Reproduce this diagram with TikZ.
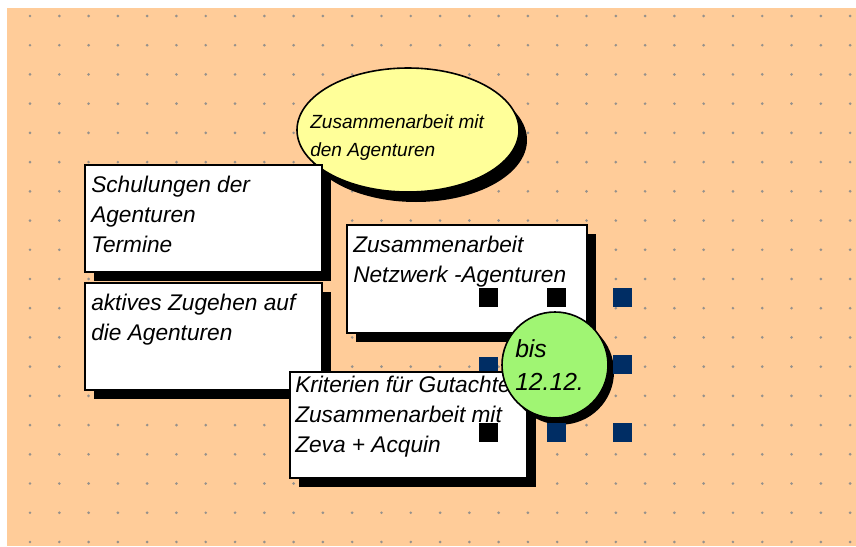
\documentclass[tikz,border=0pt]{standalone}
\usepackage{fontspec}
\setmainfont{Liberation Sans}
\usetikzlibrary{shadows,shapes.geometric}

\definecolor{peach}{RGB}{255,204,153}
\definecolor{paleyellow}{RGB}{255,255,153}
\definecolor{palegreen}{RGB}{160,245,115}
\definecolor{gripblue}{RGB}{0,45,100}
\definecolor{dotgrey}{RGB}{150,145,140}

\tikzset{
  card/.style={draw=black, line width=1pt, fill=white, inner sep=0pt,
    minimum width=177.75pt, minimum height=80.25pt,
    drop shadow={shadow xshift=6.75pt, shadow yshift=-6.75pt, fill=black, opacity=1}},
  cardtext/.style={font=\itshape\fontsize{17}{22.5}\selectfont, align=left,
    inner sep=0pt, anchor=base west},
  grip/.style={fill=gripblue, inner sep=0pt, minimum size=14.25pt},
  blackgrip/.style={grip, fill=black}
}

\begin{document}
\begin{tikzpicture}[x=0.75pt, y=-0.75pt]
\useasboundingbox (0,0) rectangle (856,546);
\fill[white] (0,0) rectangle (856,546);
\fill[peach] (7,8) rectangle (856,546);

% grid dots
\foreach \i in {0,...,28}
  \foreach \j in {0,...,18}
    \fill[dotgrey] (30+29.29*\i, 16+29.22*\j) circle (1.1pt);

% ellipse at the top
\node[ellipse, draw=black, line width=1.2pt, fill=paleyellow, inner sep=0pt,
  minimum width=166.5pt, minimum height=93pt,
  drop shadow={shadow xshift=6pt, shadow yshift=-7.5pt, fill=black, opacity=1}]
  (agent) at (408,130) {};
\node[font=\itshape\fontsize{14.3}{21}\selectfont, align=left, inner sep=0pt, anchor=base west]
  (agenttext) at (310,156) {Zusammenarbeit mit\\den Agenturen};

% boxes (text anchored at the baseline of its last line)
\node[card] (schulung) at (203.5,218.5) {};
\node[cardtext] (schulungtext) at (91,252) {Schulungen der\\Agenturen\\Termine};

\node[card] (zugehen) at (203.5,336.5) {};
\node[cardtext] (zugehentext) at (91,340) {aktives Zugehen auf\\die Agenturen};

\node[card, minimum width=180pt, minimum height=81pt] (netzwerk) at (467,279) {};
\node[cardtext] (netzwerktext) at (353,282) {Zusammenarbeit\\Netzwerk -Agenturen};

\node[card, minimum height=79.5pt] (kriterien) at (408.5,425) {};
\node[cardtext] (kriterientext) at (295,452) {Kriterien f\"ur Gutachter\\Zusammenarbeit mit\\Zeva + Acquin};

% circle with the date
\node[circle, draw=black, line width=1.2pt, fill=palegreen, inner sep=0pt,
  minimum size=79.5pt,
  drop shadow={shadow xshift=4.5pt, shadow yshift=-5pt, fill=black, opacity=1}]
  (frist) at (555,365) {};
\node[font=\itshape\fontsize{18.5}{24.75}\selectfont, align=left, inner sep=0pt, anchor=base west]
  (fristtext) at (515,390) {bis\\12.12.};

% selection handles
\node[blackgrip] (g1) at (488,297) {};
\node[blackgrip] (g2) at (556,297) {};
\node[grip] (g3) at (622,297) {};
\node[grip, minimum height=10.5pt] (g4) at (488,364) {};
\node[grip] (g5) at (622,364) {};
\node[blackgrip] (g6) at (488,432) {};
\node[grip] (g7) at (556,432) {};
\node[grip] (g8) at (622,432) {};
\end{tikzpicture}
\end{document}
